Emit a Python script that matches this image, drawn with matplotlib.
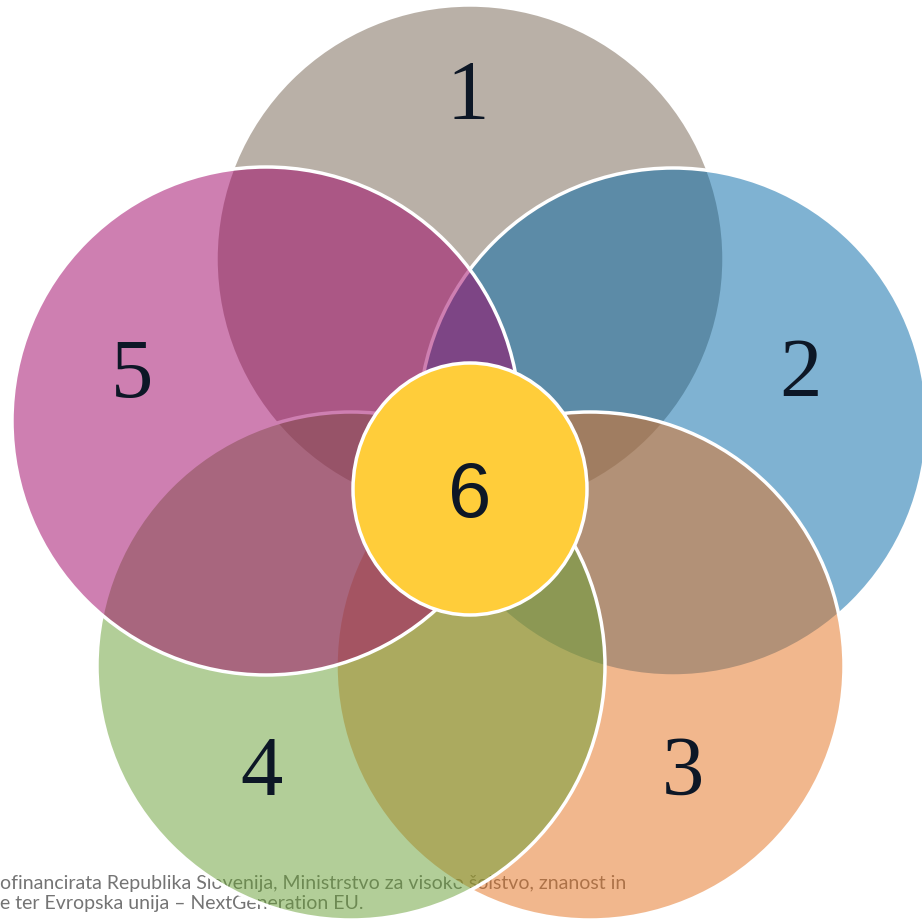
"""Five overlapping circles around a central sixth one."""

import matplotlib

matplotlib.use("Agg")
from matplotlib import pyplot as plt  # noqa: E402
from matplotlib.patches import Circle, Ellipse  # noqa: E402

# --- content -------------------------------------------------------------
LABELS = ["1", "2", "3", "4", "5"]
CENTER_LABEL = "6"
# base colours, drawn at 50 % opacity over white
FILL_COLORS = ["#756351", "#0067a7", "#e5711d", "#679f33", "#9f0065"]
CENTER_COLOR = "#ffcd3a"
NOTE_LINES = [
    "ofinancirata Republika Slovenija, Ministrstvo za visoko šolstvo, znanost in",
    "e ter Evropska unija – NextGeneration EU.",
]

# --- layout (pixel units on a 922 x 922 canvas, y grows downwards) --------
SIZE = 922
CENTERS = [(470, 259), (673, 422), (590, 666), (351, 666), (266, 421)]
RADIUS = 254
LABEL_POS = [(468, 119), (800, 397), (683, 795), (262, 795), (132, 398)]
CENTER_POS = (470, 489)
CENTER_W, CENTER_H = 234, 252
TEXT_COLOR = "#0d1726"


def main() -> None:
    fig = plt.figure(figsize=(SIZE / 100, SIZE / 100), dpi=100)
    ax = fig.add_axes([0, 0, 1, 1])
    ax.set_xlim(0, SIZE)
    ax.set_ylim(SIZE, 0)
    ax.axis("off")

    # footnote sits underneath the circles
    for i, line in enumerate(NOTE_LINES):
        ax.text(0, 889 + i * 20, line, fontsize=14, family="Lato",
                color="#747474", ha="left", va="baseline", zorder=1)

    for k, (center, color) in enumerate(zip(CENTERS, FILL_COLORS)):
        face = matplotlib.colors.to_rgba(color, 0.5)
        ax.add_patch(Circle(center, RADIUS, facecolor=face, edgecolor="white",
                            linewidth=2.5, zorder=2 + k))

    ax.add_patch(Ellipse(CENTER_POS, CENTER_W, CENTER_H, facecolor=CENTER_COLOR,
                         edgecolor="white", linewidth=2.5, zorder=10))

    for label, (x, y) in zip(LABELS, LABEL_POS):
        ax.text(x, y, label, fontsize=61, family="Liberation Serif",
                color=TEXT_COLOR, ha="center", va="baseline", zorder=20)
    ax.text(CENTER_POS[0], 517, CENTER_LABEL, fontsize=56, family="Liberation Sans",
            color=TEXT_COLOR, ha="center", va="baseline", zorder=20)

    fig.savefig("out.png", dpi=100)
    plt.close(fig)


if __name__ == "__main__":
    main()
